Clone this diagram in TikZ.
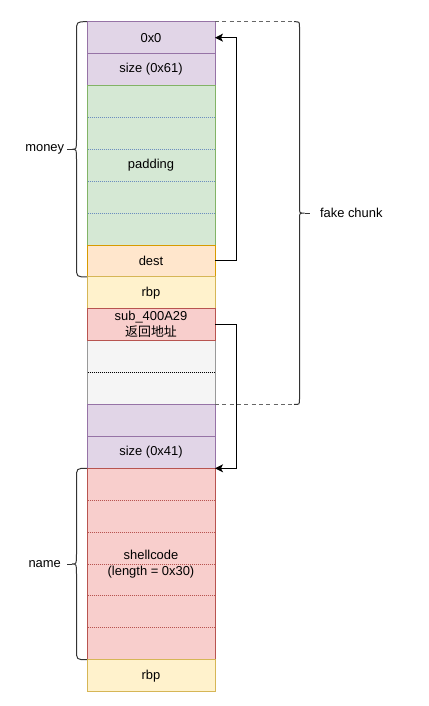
\documentclass[tikz,border=0pt]{standalone}
\usepackage{fontspec}
\setmainfont{Liberation Sans}
\newfontfamily\cjkfont{Noto Sans CJK SC}
\usetikzlibrary{arrows.meta}

\definecolor{purpleF}{HTML}{E1D5E7}
\definecolor{purpleD}{HTML}{9673A6}
\definecolor{greenF}{HTML}{D5E8D4}
\definecolor{greenD}{HTML}{82B366}
\definecolor{orangeF}{HTML}{FFE6CC}
\definecolor{orangeD}{HTML}{D79B00}
\definecolor{yellowF}{HTML}{FFF2CC}
\definecolor{yellowD}{HTML}{D6B656}
\definecolor{redF}{HTML}{F8CECC}
\definecolor{redD}{HTML}{B85450}
\definecolor{grayF}{HTML}{F5F5F5}
\definecolor{grayD}{HTML}{999999}
\definecolor{blueD}{HTML}{6C8EBF}
\definecolor{braceD}{HTML}{333333}
\definecolor{dashD}{HTML}{666666}

\tikzset{every picture/.style={line width=0.75pt}}
\tikzset{
  cell/.style={draw, minimum width=96pt, minimum height=23.925pt, inner sep=0pt, outer sep=0pt,
    align=center, font=\fontsize{9.7}{12}\selectfont},
  hdrcell/.style={cell, fill=purpleF, draw=purpleD},
  padcell/.style={cell, fill=greenF, draw=greenD},
  destcell/.style={cell, fill=orangeF, draw=orangeD},
  rbpcell/.style={cell, fill=yellowF, draw=yellowD},
  redcell/.style={cell, fill=redF, draw=redD},
  gapcell/.style={cell, fill=grayF, draw=grayD},
  sep/.style={dash pattern={on 0.75pt off 0.75pt}},
  arr/.style={-{Stealth[length=6pt,width=6pt,inset=1.5pt]}},
  lbl/.style={inner sep=0.75pt, font=\fontsize{9.7}{12}\selectfont}
}

\begin{document}
\begin{tikzpicture}[x=0.75pt,y=0.75pt,yscale=-1,xscale=1]
\useasboundingbox (0,0) rectangle (428,706);

%Shape: Rectangle [first chunk]
\node [hdrcell] (zero) at (151,37.65) {0x0};
\node [hdrcell] (size61) at (151,69.55) {size (0x61)};
\node [padcell, minimum height=119.625pt] (padding) at (151,165.25) {padding};
\node [destcell] (dest) at (151,260.95) {dest};
\node [rbpcell] (rbpA) at (151,292.85) {rbp};
%Shape: Rectangle [between]
\node [gapcell, minimum height=47.85pt] (gap) at (151,372.6) {};
\node [redcell] (ret) at (151,324.75) {sub\_400A29\\{\cjkfont 返回地址}};
%Shape: Rectangle [second chunk]
\node [hdrcell] (hdr) at (151,420.45) {};
\node [hdrcell] (size41) at (151,452.35) {size (0x41)};
\node [redcell, minimum height=143.55pt] (shell) at (151,564) {shellcode\\(length = 0x30)};
\node [rbpcell] (rbpB) at (151,675.65) {rbp};

%Straight Lines [padding rows]
\draw [sep, blueD] (87.5,117.4) -- (214.5,117.4) ;
\draw [sep, blueD] (87.5,149.3) -- (214.5,149.3) ;
\draw [sep, blueD] (87.5,181.2) -- (214.5,181.2) ;
\draw [sep, blueD] (87.5,213.1) -- (214.5,213.1) ;
%Straight Lines [gap rows]
\draw [sep, black] (87.5,372.6) -- (214.5,372.6) ;
%Straight Lines [shellcode rows]
\draw [sep, redD] (87.5,500.2) -- (214.5,500.2) ;
\draw [sep, redD] (87.5,532.1) -- (214.5,532.1) ;
\draw [sep, redD] (87.5,564) -- (214.5,564) ;
\draw [sep, redD] (87.5,595.9) -- (214.5,595.9) ;
\draw [sep, redD] (87.5,627.8) -- (214.5,627.8) ;

%Shape: Brace [money]
\draw [braceD] (87,21.7) .. controls (76.5,21.7) .. (76.5,31.7) -- (76.5,139.3) .. controls (76.5,149.3) .. (72,149.3) .. controls (76.5,149.3) .. (76.5,159.3) -- (76.5,266.9) .. controls (76.5,276.9) .. (87,276.9) ;
\draw [braceD] (72,149.3) -- (67,149.3) ;
%Shape: Brace [name]
\draw [braceD] (87,468.3) .. controls (76.5,468.3) .. (76.5,478.3) -- (76.5,554) .. controls (76.5,564) .. (72,564) .. controls (76.5,564) .. (76.5,574) -- (76.5,649.7) .. controls (76.5,659.7) .. (87,659.7) ;
\draw [braceD] (72,564) -- (67,564) ;
%Shape: Brace [fake chunk]
\coordinate (fcTop) at (294,21.7) ;
\coordinate (fcBot) at (294,404.5) ;
\draw [braceD] (fcTop) .. controls (299.5,21.7) .. (299.5,27) -- (299.5,207.8) .. controls (299.5,213.1) .. (304.5,213.1) .. controls (299.5,213.1) .. (299.5,218.4) -- (299.5,399.2) .. controls (299.5,404.5) .. (fcBot) ;
\draw [braceD] (304.5,213.1) -- (310,213.1) ;
\draw [dashD, dash pattern={on 3pt off 2.5pt}] (zero.north east) -- (fcTop) ;
\draw [dashD, dash pattern={on 3pt off 2.5pt}] (hdr.north east) -- (fcBot) ;

%Straight Lines [pointers]
\draw [arr] (dest.east) -- ++(21.5,0) |- (zero.east) ;
\draw [arr] (ret.east) -- ++(21.5,0) |- (size41.south east) ;

% Text Node
\node [lbl] (money) at (44.7,149.3) {money};
% Text Node
\node [lbl] (name) at (44.7,564) {name};
% Text Node
\node [lbl, anchor=west] (fake) at (318.5,213.1) {fake chunk};

\end{tikzpicture}
\end{document}
